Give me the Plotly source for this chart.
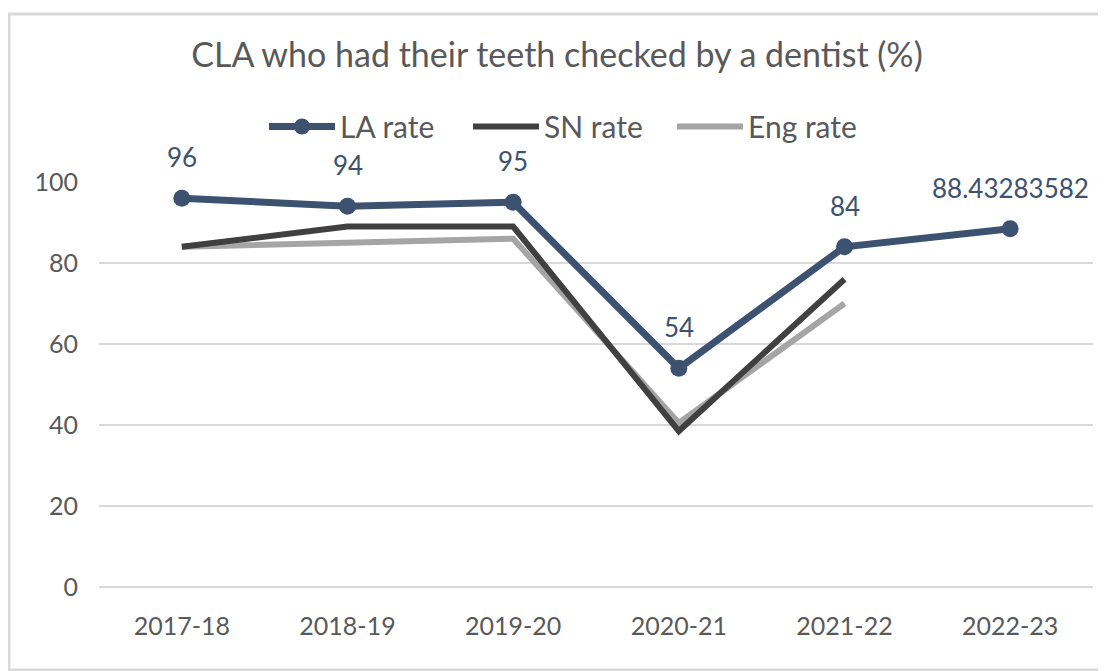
import plotly.graph_objects as go

years = ['2017-18', '2018-19', '2019-20', '2020-21', '2021-22', '2022-23']
la_rate = [96, 94, 95, 54, 84, 88.43283582]
sn_rate = [84, 89, 89, 38.5, 76, None]
eng_rate = [84, 85, 86, 40.5, 70, None]
la_labels = ['96', '94', '95', '54', '84', '88.43283582']

FONT = 'Lato, "Open Sans", sans-serif'
GREY_TXT = '#595959'
LA_COL = '#3D5170'

fig = go.Figure()

# lignes de comparaison (dessinées derrière)
fig.add_trace(go.Scatter(
    x=years, y=eng_rate, name='Eng rate', mode='lines',
    line=dict(color='#A5A5A5', width=6)
))
fig.add_trace(go.Scatter(
    x=years, y=sn_rate, name='SN rate', mode='lines',
    line=dict(color='#404040', width=6)
))
fig.add_trace(go.Scatter(
    x=years, y=la_rate, name='LA rate', mode='lines+markers',
    line=dict(color=LA_COL, width=7),
    marker=dict(color=LA_COL, size=17)
))

# étiquettes de données au-dessus des points LA
for yr, val, lab in zip(years, la_rate, la_labels):
    fig.add_annotation(
        x=yr, y=val, text=lab, showarrow=False, yshift=41,
        font=dict(family=FONT, size=26, color=LA_COL)
    )

# cadre du graphique
fig.add_shape(
    type='rect', xref='paper', yref='paper',
    x0=-90 / 994, x1=1005 / 994, y0=-83 / 405, y1=573 / 405,
    line=dict(color='#D9D9D9', width=3)
)

fig.update_layout(
    title=dict(
        text='CLA who had their teeth checked by a dentist (%)',
        x=0.5, xanchor='center', y=0.929, yanchor='middle',
        font=dict(family=FONT, size=34, color=GREY_TXT)
    ),
    legend=dict(
        orientation='h', x=0.166, xanchor='left', y=1.137, yanchor='middle',
        traceorder='reversed',
        font=dict(family=FONT, size=30, color=GREY_TXT),
        itemwidth=66, entrywidth=123
    ),
    width=1098, height=663,
    margin=dict(l=91, r=13, t=174, b=84),
    plot_bgcolor='white', paper_bgcolor='white',
    xaxis=dict(
        range=[-0.5, 5.5], showgrid=False, showline=False, ticks='',
        ticklabelstandoff=22,
        tickfont=dict(family=FONT, size=25, color=GREY_TXT)
    ),
    yaxis=dict(
        range=[0, 100], dtick=20, showline=False,
        zeroline=True, zerolinecolor='#D9D9D9', zerolinewidth=2,
        gridcolor='#D9D9D9', gridwidth=2,
        ticklabelstandoff=20,
        tickfont=dict(family=FONT, size=25, color=GREY_TXT)
    )
)

fig.write_html('out.html')
